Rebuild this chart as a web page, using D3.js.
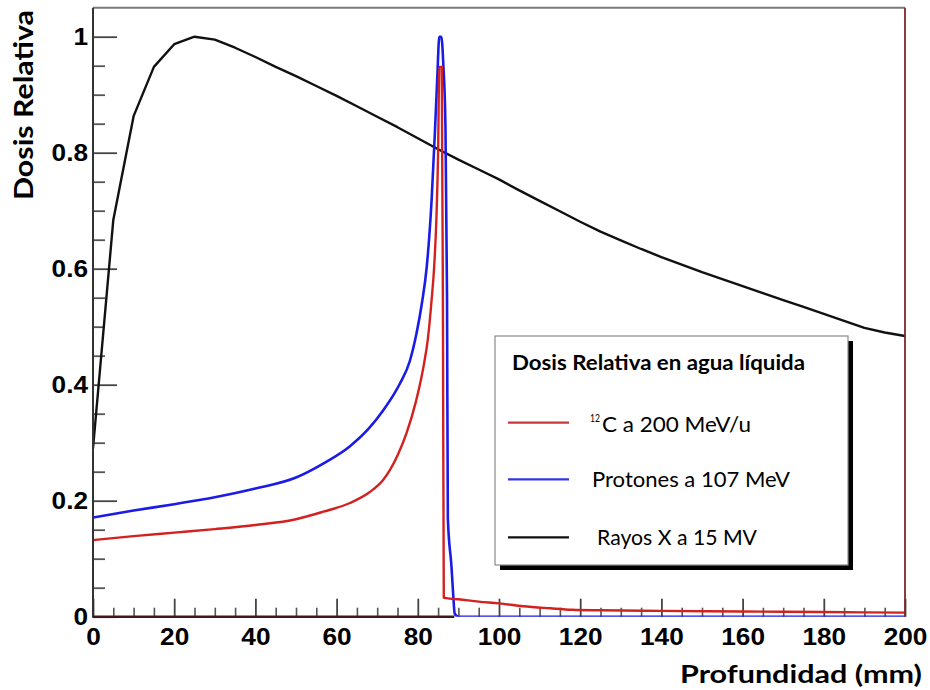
<!DOCTYPE html>
<html>
<head>
<meta charset="utf-8">
<script src="https://cdn.jsdelivr.net/npm/d3@7"></script>
<style>
  html, body { margin: 0; padding: 0; background: #fff; }
  svg { display: block; }
</style>
</head>
<body>
<svg id="chart" width="930" height="690"></svg>
<script>
// Depth-dose curves in liquid water (relative dose vs depth in mm)

// Carbon-12 ions, 200 MeV/u
const carbonDepth = [0, 10, 20, 30, 40, 50, 56.7, 63.3, 68, 71.5, 75, 77.2, 79.5, 81.4, 82.5, 83.4, 84.0, 84.6, 85.0, 85.3, 85.9, 86.2, 86.4, 87, 90, 95, 100, 106, 112.6, 118, 125, 140, 160, 180, 200];
const carbonDose  = [0.132, 0.139, 0.145, 0.151, 0.158, 0.168, 0.181, 0.196, 0.214, 0.236, 0.278, 0.316, 0.370, 0.431, 0.480, 0.546, 0.600, 0.690, 0.800, 0.948, 0.948, 0.500, 0.033, 0.032, 0.030, 0.026, 0.023, 0.018, 0.0145, 0.012, 0.011, 0.010, 0.009, 0.008, 0.007];

// Protons, 107 MeV
const protonDepth = [0, 10, 20, 30, 40, 50, 56.7, 63.3, 68, 71.5, 75.6, 78, 79.7, 81, 82.2, 83.4, 84.2, 84.8, 85.3, 85.8, 86.3, 86.8, 87.2, 87.4, 88.3, 88.7, 89.1, 90, 200];
const protonDose  = [0.171, 0.183, 0.194, 0.206, 0.221, 0.240, 0.264, 0.294, 0.325, 0.356, 0.402, 0.440, 0.489, 0.540, 0.603, 0.718, 0.833, 0.930, 1.000, 1.000, 0.950, 0.850, 0.550, 0.170, 0.086, 0.040, 0.005, 0, 0];

// X-rays, 15 MV (5 mm sampling)
const xrayDepth = [0, 5, 10, 15, 20, 25, 30, 35, 40, 45, 50, 55, 60, 65, 70, 75, 80, 85, 90, 95, 100, 105, 110, 115, 120, 125, 130, 135, 140, 145, 150, 155, 160, 165, 170, 175, 180, 185, 190, 195, 200];
const xrayDose  = [0.290, 0.684, 0.863, 0.948, 0.987, 1.000, 0.995, 0.981, 0.965, 0.948, 0.932, 0.915, 0.898, 0.880, 0.862, 0.844, 0.825, 0.806, 0.788, 0.771, 0.754, 0.735, 0.717, 0.699, 0.681, 0.664, 0.649, 0.634, 0.620, 0.607, 0.594, 0.582, 0.570, 0.558, 0.546, 0.534, 0.522, 0.510, 0.498, 0.490, 0.484];

// Axis ticks and labels
const xMajorTicks = [0, 20, 40, 60, 80, 100, 120, 140, 160, 180, 200];
const xTickLabels = ["0", "20", "40", "60", "80", "100", "120", "140", "160", "180", "200"];
const yMajorTicks = [0, 0.2, 0.4, 0.6, 0.8, 1];
const yTickLabels = ["0", "0.2", "0.4", "0.6", "0.8", "1"];

const seriesNames = ["C a 200 MeV/u", "Protones a 107 MeV", "Rayos X a 15 MV"];
const legendTitle = "Dosis Relativa en agua líquida";
const xTitle = "Profundidad (mm)";
const yTitle = "Dosis Relativa";

const colors = { carbon: "#d3211f", proton: "#1b1be8", xray: "#111111" };

const svg = d3.select("#chart");
const plotLeft = 93, plotRight = 905, plotTop = 7.7, plotBottom = 616.7;

const x = d3.scaleLinear().domain([0, 200]).range([plotLeft, plotRight]);
const y = d3.scaleLinear().domain([0, 1.05]).range([plotBottom, plotTop]);

const xMinor = d3.range(0, 201, 5).filter(v => v % 20 !== 0);
const yMinor = d3.range(0, 1.0001, 0.05).map(v => +v.toFixed(2)).filter(v => Math.abs(v * 5 - Math.round(v * 5)) > 1e-6);

// Tick labels are drawn slightly wide
function widen(sel, factor) {
  sel.each(function () {
    const len = this.getComputedTextLength();
    if (len > 0) d3.select(this).attr("textLength", len * factor).attr("lengthAdjust", "spacingAndGlyphs");
  });
}

// Minor ticks
svg.append("g")
  .attr("transform", `translate(0,${plotBottom})`)
  .call(d3.axisBottom(x).tickValues(xMinor).tickSize(-9).tickFormat(""))
  .call(g => g.select(".domain").remove())
  .call(g => g.selectAll("line").attr("stroke", "#555").attr("stroke-width", 1.6));

svg.append("g")
  .attr("transform", `translate(${plotLeft},0)`)
  .call(d3.axisLeft(y).tickValues(yMinor).tickSize(-12).tickFormat(""))
  .call(g => g.select(".domain").remove())
  .call(g => g.selectAll("line").attr("stroke", "#555").attr("stroke-width", 1.8));

// Major ticks with labels
const xAxis = svg.append("g")
  .attr("transform", `translate(0,${plotBottom})`)
  .call(d3.axisBottom(x).tickValues(xMajorTicks).tickSize(-18)
    .tickFormat((d, i) => xTickLabels[i]))
  .call(g => g.select(".domain").remove())
  .call(g => g.selectAll("line").attr("stroke", "#444").attr("stroke-width", 1.8));
xAxis.selectAll("text")
  .attr("y", 28.5).attr("dy", 0)
  .attr("fill", "#000")
  .style("font-family", "'Liberation Sans', Arial, sans-serif")
  .style("font-weight", "bold")
  .style("font-size", "23px")
  .call(widen, 1.14);

const yAxis = svg.append("g")
  .attr("transform", `translate(${plotLeft},0)`)
  .call(d3.axisLeft(y).tickValues(yMajorTicks).tickSize(-24)
    .tickFormat((d, i) => yTickLabels[i]))
  .call(g => g.select(".domain").remove())
  .call(g => g.selectAll("line").attr("stroke", "#444").attr("stroke-width", 1.8));
yAxis.selectAll("text")
  .attr("x", -5).attr("dy", "0.36em")
  .attr("fill", "#000")
  .style("font-family", "'Liberation Sans', Arial, sans-serif")
  .style("font-weight", "bold")
  .style("font-size", "23px")
  .call(widen, 1.14);

// Curves
svg.append("clipPath").attr("id", "plot-clip")
  .append("rect").attr("x", plotLeft).attr("y", plotTop - 2)
  .attr("width", plotRight - plotLeft).attr("height", plotBottom - plotTop + 2);

const polyline = d3.line().x(d => x(d[0])).y(d => y(d[1]));
const smooth = d3.line().curve(d3.curveMonotoneX).x(d => x(d[0])).y(d => y(d[1]));
const curves = svg.append("g").attr("clip-path", "url(#plot-clip)");

curves.append("path")
  .datum(d3.zip(xrayDepth, xrayDose))
  .attr("d", polyline).attr("fill", "none")
  .attr("stroke", colors.xray).attr("stroke-width", 2.4).attr("stroke-linejoin", "round");

curves.append("path")
  .datum(d3.zip(protonDepth, protonDose))
  .attr("d", smooth).attr("fill", "none")
  .attr("stroke", colors.proton).attr("stroke-width", 2.6).attr("stroke-linejoin", "miter");

curves.append("path")
  .datum(d3.zip(carbonDepth, carbonDose))
  .attr("d", smooth).attr("fill", "none")
  .attr("stroke", colors.carbon).attr("stroke-width", 2.4).attr("stroke-linejoin", "miter");

// Frame
svg.append("line").attr("x1", plotLeft).attr("x2", plotRight).attr("y1", plotTop).attr("y2", plotTop)
  .attr("stroke", "#7a7a7a").attr("stroke-width", 2);
svg.append("line").attr("x1", plotRight).attr("x2", plotRight).attr("y1", plotTop).attr("y2", plotBottom)
  .attr("stroke", "#7c2a2a").attr("stroke-width", 1.8);
svg.append("line").attr("x1", plotLeft).attr("x2", plotLeft).attr("y1", plotTop).attr("y2", plotBottom + 1)
  .attr("stroke", "#333").attr("stroke-width", 2);
svg.append("line").attr("x1", plotLeft).attr("x2", x(89)).attr("y1", plotBottom).attr("y2", plotBottom)
  .attr("stroke", "#3b1a1a").attr("stroke-width", 2.4);

// Axis titles
svg.append("text")
  .attr("x", 922).attr("y", 683)
  .attr("text-anchor", "end")
  .attr("textLength", 242).attr("lengthAdjust", "spacingAndGlyphs")
  .style("font-family", "Lato, 'Open Sans', sans-serif")
  .style("font-weight", "bold").style("font-size", "25px")
  .text(xTitle);

svg.append("text")
  .attr("transform", "translate(33,10) rotate(-90)")
  .attr("text-anchor", "end")
  .attr("textLength", 190).attr("lengthAdjust", "spacingAndGlyphs")
  .style("font-family", "Lato, 'Open Sans', sans-serif")
  .style("font-weight", "bold").style("font-size", "26px")
  .text(yTitle);

// Legend
const legend = svg.append("g");
const lx0 = 495, ly0 = 336, lw = 353, lh = 229;
legend.append("rect").attr("x", lx0 + 5).attr("y", ly0 + 5).attr("width", lw).attr("height", lh).attr("fill", "#000");
legend.append("rect").attr("x", lx0).attr("y", ly0).attr("width", lw).attr("height", lh)
  .attr("fill", "#fff").attr("stroke", "#8a8a8a").attr("stroke-width", 1.2);

legend.append("text")
  .attr("x", 512).attr("y", 370)
  .attr("textLength", 293).attr("lengthAdjust", "spacingAndGlyphs")
  .style("font-family", "Lato, 'Open Sans', sans-serif")
  .style("font-weight", "bold").style("font-size", "20px")
  .text(legendTitle);

const entries = [
  { name: seriesNames[0], color: "#c8383a", ly: 422.7, tx: 602, ty: 432, tl: 149 },
  { name: seriesNames[1], color: "#3434e4", ly: 479.3, tx: 592, ty: 487, tl: 198 },
  { name: seriesNames[2], color: "#111", ly: 537.3, tx: 597, ty: 545, tl: 160 }
];
entries.forEach(e => {
  legend.append("line").attr("x1", 508).attr("x2", 569).attr("y1", e.ly).attr("y2", e.ly)
    .attr("stroke", e.color).attr("stroke-width", 2.2);
  legend.append("text")
    .attr("x", e.tx).attr("y", e.ty)
    .attr("textLength", e.tl).attr("lengthAdjust", "spacingAndGlyphs")
    .style("font-family", "Lato, 'Open Sans', sans-serif")
    .style("font-size", "21px")
    .text(e.name);
});
legend.append("text")
  .attr("x", 590).attr("y", 422)
  .attr("textLength", 10).attr("lengthAdjust", "spacingAndGlyphs")
  .style("font-family", "Lato, 'Open Sans', sans-serif")
  .style("font-size", "11px")
  .text("12");
</script>
</body>
</html>
